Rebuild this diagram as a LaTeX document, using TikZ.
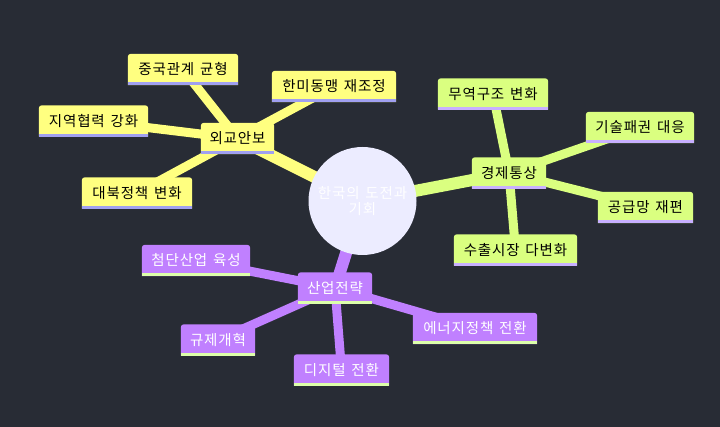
\documentclass[tikz,border=0pt]{standalone}
\usepackage{fontspec}
\setmainfont{Noto Sans CJK KR}[WordSpace=1.4,LetterSpace=6]
\definecolor{bg}{HTML}{282C35}
\definecolor{yel}{HTML}{FFFF80}
\definecolor{yelS}{HTML}{A0A0F0}
\definecolor{grn}{HTML}{DAFF80}
\definecolor{grnS}{HTML}{C8B0FF}
\definecolor{pur}{HTML}{C080FF}
\definecolor{purS}{HTML}{DDFFAA}
\definecolor{rootc}{HTML}{ECECFF}
\pgfdeclarelayer{bgl}
\pgfdeclarelayer{edges}
\pgfdeclarelayer{boxes}
\pgfsetlayers{bgl,edges,boxes,main}
\newcommand\mmbox[3]{%
  \fill[#2] (#1.south west) -- ([yshift=-3pt]#1.north west)
    arc[start angle=180,end angle=90,radius=3pt]
    -- ([xshift=-3pt]#1.north east)
    arc[start angle=90,end angle=0,radius=3pt]
    -- (#1.south east) -- cycle;
  \fill[#3] (#1.south west) rectangle ([yshift=3pt]#1.south east);}
\tikzset{
  lbl/.style={inner sep=0pt, minimum height=31pt, font=\fontsize{14.5pt}{16pt}\selectfont},
  dk/.style={lbl, text=black},
  lt/.style={lbl, text=white},
  rootedge/.style={line width=12pt},
  leafedge/.style={line width=9pt},
}
\begin{document}
\begin{tikzpicture}[x=1pt,y=-1pt]
\begin{pgfonlayer}{bgl}
\fill[bg] (0,0) rectangle (720,427);
\end{pgfonlayer}
\useasboundingbox (0,0) rectangle (720,427);
% root
\node[circle, minimum size=108pt, inner sep=0pt, text=white, align=center,
      font=\fontsize{14.5pt}{16pt}\selectfont] (root) at (362.5,201) {한국의 도전과\\기회};
% branch 1
\node[dk, minimum width=73pt] (wk) at (237.5,138.5) {외교안보};
\node[dk, minimum width=110pt] (cn) at (183,69.5) {중국관계 균형};
\node[dk, minimum width=124pt] (us) at (334,86.5) {한미동맹 재조정};
\node[dk, minimum width=109pt] (rg) at (93.5,121) {지역협력 강화};
\node[dk, minimum width=110pt] (nk) at (137,193) {대북정책 변화};
% branch 2
\node[dk, minimum width=74pt] (ec) at (509,173) {경제통상};
\node[dk, minimum width=110pt] (tr) at (493,94) {무역구조 변화};
\node[dk, minimum width=108pt] (te) at (640,127.5) {기술패권 대응};
\node[dk, minimum width=95pt] (sc) at (645.5,207.5) {공급망 재편};
\node[dk, minimum width=123pt] (ex) at (515.5,250) {수출시장 다변화};
% branch 3
\node[lt, minimum width=74pt] (in) at (335,288) {산업전략};
\node[lt, minimum width=108pt] (ad) at (196,260.5) {첨단산업 육성};
\node[lt, minimum width=74pt] (rf) at (218,340) {규제개혁};
\node[lt, minimum width=95pt] (dg) at (341.5,370) {디지털 전환};
\node[lt, minimum width=124pt] (en) at (475,328.5) {에너지정책 전환};

\begin{pgfonlayer}{edges}
  \draw[rootedge, yel] (root.center) -- (wk.center);
  \draw[rootedge, grn] (root.center) -- (ec.center);
  \draw[rootedge, pur] (root.center) -- (in.center);
  \foreach \n in {cn,us,rg,nk} \draw[leafedge, yel] (wk.center) -- (\n.center);
  \foreach \n in {tr,te,sc,ex} \draw[leafedge, grn] (ec.center) -- (\n.center);
  \foreach \n in {ad,rf,dg,en} \draw[leafedge, pur] (in.center) -- (\n.center);
\end{pgfonlayer}

\begin{pgfonlayer}{boxes}
  \fill[rootc] (root.center) circle[radius=54pt];
  \foreach \n in {wk,cn,us,rg,nk} {\mmbox{\n}{yel}{yelS}}
  \foreach \n in {ec,tr,te,sc,ex} {\mmbox{\n}{grn}{grnS}}
  \foreach \n in {in,ad,rf,dg,en} {\mmbox{\n}{pur}{purS}}
\end{pgfonlayer}
\end{tikzpicture}
\end{document}
